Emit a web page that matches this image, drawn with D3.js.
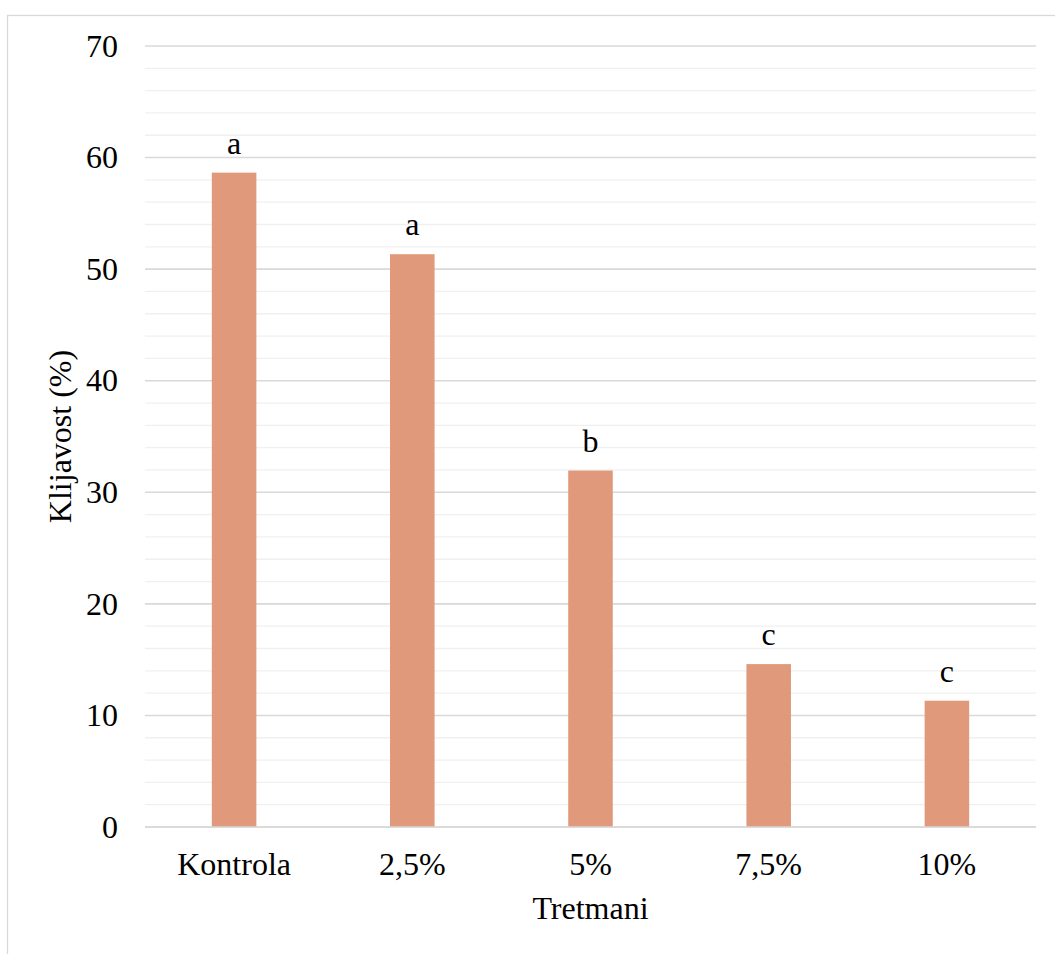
<!DOCTYPE html>
<html>
<head>
<meta charset="utf-8">
<script src="https://cdn.jsdelivr.net/npm/d3@7"></script>
<style>
  html, body { margin: 0; padding: 0; background: #fff; }
  svg { display: block; }
  text { font-family: "Liberation Serif", "Times New Roman", serif; fill: #000; }
</style>
</head>
<body>
<script>
const categories = ["Kontrola", "2,5%", "5%", "7,5%", "10%"];
const values = [58.65, 51.34, 31.95, 14.6, 11.32];
const letters = ["a", "a", "b", "c", "c"];
const yTicks = [0, 10, 20, 30, 40, 50, 60, 70];
const yMinorTicks = d3.range(0, 71, 2);
const xTitle = "Tretmani";
const yTitle = "Klijavost (%)";

const W = 1055, H = 954;
const plot = { left: 145, right: 1036, top: 46, bottom: 827 };
const fontSize = 32;

const svg = d3.select("body").append("svg").attr("width", W).attr("height", H);

// chart border
svg.append("rect")
  .attr("x", 7.5).attr("y", 15.5)
  .attr("width", W + 10).attr("height", H + 10)
  .attr("fill", "#fff").attr("stroke", "#d9d9d9").attr("stroke-width", 1.3);

const x = d3.scaleBand().domain(categories).range([plot.left, plot.right]).paddingInner(0.75).paddingOuter(0.375);
const y = d3.scaleLinear().domain([0, 70]).range([plot.bottom, plot.top]);

// minor gridlines
svg.append("g").selectAll("line")
  .data(yMinorTicks.filter(v => v % 10 !== 0))
  .join("line")
  .attr("x1", plot.left).attr("x2", plot.right)
  .attr("y1", d => y(d)).attr("y2", d => y(d))
  .attr("stroke", "#f0f0f0").attr("stroke-width", 1.3);

// major gridlines
svg.append("g").selectAll("line")
  .data(yTicks)
  .join("line")
  .attr("x1", plot.left).attr("x2", plot.right)
  .attr("y1", d => y(d)).attr("y2", d => y(d))
  .attr("stroke", "#d9d9d9").attr("stroke-width", 1.6);

// y axis labels
const yAxis = d3.axisLeft(y).tickValues(yTicks).tickSize(0).tickPadding(27).tickFormat(d3.format("d"));
const gy = svg.append("g").attr("transform", `translate(${plot.left},0)`).call(yAxis);
gy.select(".domain").remove();
gy.selectAll("text").style("font-family", '"Liberation Serif", serif').style("font-size", fontSize + "px").attr("fill", "#000");

// bars
svg.append("g").selectAll("rect")
  .data(values)
  .join("rect")
  .attr("x", (d, i) => x(categories[i]))
  .attr("y", d => y(d))
  .attr("width", x.bandwidth())
  .attr("height", d => y(0) - y(d))
  .attr("fill", "#e0997a");

// redraw baseline over bars
svg.append("line")
  .attr("x1", plot.left).attr("x2", plot.right)
  .attr("y1", y(0)).attr("y2", y(0))
  .attr("stroke", "#d9d9d9").attr("stroke-width", 1.6);

// letters
svg.append("g").selectAll("text")
  .data(values)
  .join("text")
  .attr("x", (d, i) => x(categories[i]) + x.bandwidth() / 2)
  .attr("y", d => y(d) - 19)
  .attr("text-anchor", "middle")
  .style("font-size", fontSize + "px")
  .text((d, i) => letters[i]);

// x axis labels
const xAxis = d3.axisBottom(x).tickSize(0).tickPadding(0);
const gx = svg.append("g").attr("transform", `translate(0,${plot.bottom})`).call(xAxis);
gx.select(".domain").remove();
gx.selectAll("text")
  .attr("dy", null)
  .attr("y", 48)
  .style("font-family", '"Liberation Serif", serif')
  .style("font-size", fontSize + "px")
  .attr("fill", "#000");

// axis titles
svg.append("text")
  .attr("x", (plot.left + plot.right) / 2)
  .attr("y", 919)
  .attr("text-anchor", "middle")
  .style("font-size", fontSize + "px")
  .text(xTitle);

svg.append("text")
  .attr("transform", `translate(71,${(plot.top + plot.bottom) / 2}) rotate(-90)`)
  .attr("text-anchor", "middle")
  .style("font-size", fontSize + "px")
  .text(yTitle);
</script>
</body>
</html>
